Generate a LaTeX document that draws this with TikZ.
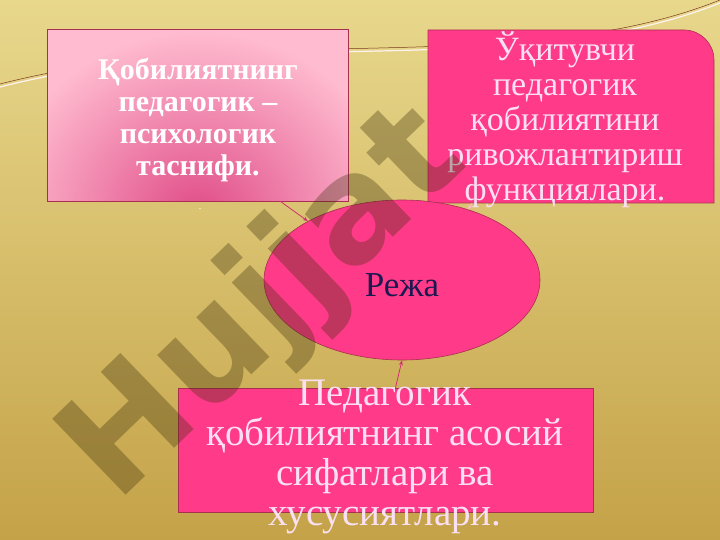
\documentclass[tikz,border=0pt]{standalone}
\usepackage{fontspec}
\setmainfont{Liberation Serif}
\newfontfamily\wmfont{DejaVu Sans}
\usetikzlibrary{shapes.geometric,arrows.meta}
\definecolor{bgtop}{HTML}{E8D88C}
\definecolor{bgbot}{HTML}{C4A248}
\definecolor{hotpink}{HTML}{FF3A88}
\definecolor{edgered}{HTML}{A8304F}
\definecolor{lightpink}{HTML}{FFBCD0}
\definecolor{midpink}{HTML}{E04C88}
\definecolor{arrowred}{HTML}{D03070}
\definecolor{navy}{HTML}{1C1850}
\definecolor{textpink}{HTML}{FBE0F4}
\definecolor{olive}{HTML}{3A2C08}
\definecolor{decobrown}{HTML}{7A3A20}
\begin{document}
\begin{tikzpicture}[x=1pt,y=-1pt,
  box/.style={draw=edgered,line width=.6pt,inner sep=0pt},
  conn/.style={draw=arrowred,line width=.8pt,-{Stealth[length=5pt,width=4pt]}},
  deco/.style={draw=decobrown,line width=.5pt}]
\useasboundingbox (0,0) rectangle (720,540);
\fill[top color=bgtop,bottom color=bgbot] (0,0) rectangle (720,540);
%
\draw[white!80!pink,line width=1.2pt] (0,87) .. controls (250,23) and (520,83) .. (720,3);
\draw[deco] (0,84) .. controls (250,20) and (520,80) .. (720,0);
%
\node[box,fill=lightpink,minimum width=300pt,minimum height=171pt] (taxon) at (198,115.5) {};
\begin{scope}
\clip (48,30) rectangle (348,201);
\fill[inner color=midpink,outer color=lightpink] (-2,30) rectangle (398,400);
\end{scope}
\draw[edgered,line width=.6pt] (taxon.north west) rectangle (taxon.south east);
\node[align=center,text=white,font=\fontsize{30}{32}\selectfont\bfseries] (taxontext) at (198,120) {Қобилиятнинг\\педагогик –\\психологик\\таснифи.};
\node[text=white,font=\fontsize{10}{10}\selectfont] (dot) at (200,209) {.};
%
\draw[box,fill=hotpink] (428,203) -- (428,30) -- (684,30) .. controls (700.5,30) and (714,43.5) .. (714,60) -- (714,203) -- cycle;
\node[minimum width=286pt,minimum height=173pt,inner sep=0pt] (devel) at (571,116.5) {};
\node[align=center,text=textpink,font=\fontsize{34}{35}\selectfont] (develtext) at (565,120) {Ўқитувчи\\педагогик\\қобилиятини\\ривожлантириш\\функциялари.};
%
\node[ellipse,draw=edgered,line width=.6pt,fill=hotpink,minimum width=276pt,minimum height=160pt,inner sep=0pt] (reja) at (402,280) {};
\node[text=navy,font=\fontsize{35}{38}\selectfont] (rejatext) at (402,285) {Режа};
%
\node[box,fill=hotpink,minimum width=415pt,minimum height=124pt] (qual) at (385.5,450) {};
\node[align=center,text=textpink,font=\fontsize{39}{40}\selectfont] (qualtext) at (385,457) {Педагогик\\қобилиятнинг асосий\\сифатлари ва\\хусусиятлари.};
%
\draw[conn] ([xshift=-68pt]taxon.south east) -- (reja.148);
\draw[conn,draw=lightpink] ([xshift=-242pt]devel.south east) -- (reja.47);
\draw[conn] ([xshift=10pt]qual.north) -- (reja.south);
%
\node[rotate=44,text=olive,opacity=.33,font=\wmfont\bfseries\fontsize{145}{145}\selectfont] (wm) at (266,306) {Hujjat};
\end{tikzpicture}
\end{document}
